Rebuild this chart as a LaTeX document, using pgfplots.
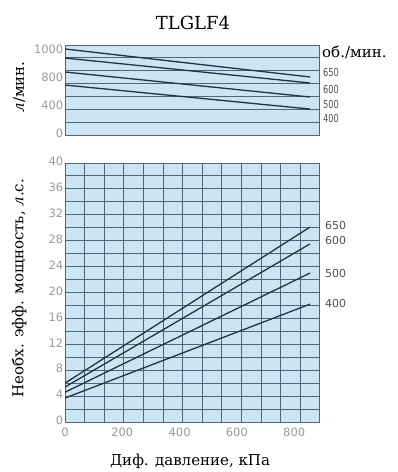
\documentclass[border=0pt]{standalone}
\usepackage{pgfplots}
\pgfplotsset{compat=1.18}
\usepackage{fontspec}
\setmainfont{DejaVu Serif}
\newfontfamily\tickfont{DejaVu Sans}
\definecolor{bgblue}{HTML}{CDE4F3}
\definecolor{gridc}{HTML}{4A687D}
\definecolor{linec}{HTML}{1F3344}
\definecolor{tickc}{HTML}{9A9A9A}
\definecolor{rlab}{HTML}{505050}
\pgfplotsset{
  dl/.style={linec, line width=1.3bp, mark=none},
  panel/.style={
    scale only axis, anchor=south west,
    xmin=0, xmax=890,
    axis background/.style={fill=bgblue},
    axis line style={gridc, line width=1bp},
    minor xtick={0,68.46,136.92,205.38,273.85,342.31,410.77,479.23,547.69,616.15,684.62,753.08,821.54,890},
    xminorgrids, yminorgrids,
    minor grid style={gridc, line width=1bp},
    major tick length=0pt, minor tick length=0pt,
    tick label style={font=\tickfont\fontsize{11.5bp}{12bp}\selectfont, text=tickc},
    /pgf/number format/assume math mode=true,
    yticklabel style={inner sep=1.5bp, yshift=1.5bp},
    xticklabel style={inner sep=2bp, yshift=-4bp},
  }
}
\begin{document}
\begin{tikzpicture}
\useasboundingbox (0,0) rectangle (398bp,-472bp);
% top panel
\begin{axis}[panel, at={(65bp,-135bp)}, width=255bp, height=90bp,
  ymin=0, ymax=1286,
  xtick=\empty,
  ytick={0,400,800,1200}, yticklabels={0,400,800,1000},
  minor ytick={0,183.7,367.4,551.1,734.9,918.6,1102.3,1286},
]
\addplot[dl] coordinates {(0,1229) (855,829)};
\addplot[dl] coordinates {(0,1100) (855,743)};
\addplot[dl] coordinates {(0,900) (855,543)};
\addplot[dl] coordinates {(0,714) (855,371)};
\end{axis}
% bottom panel
\begin{axis}[panel, at={(65bp,-422bp)}, width=255bp, height=259bp,
  ymin=0, ymax=40,
  xtick={0,200,400,600,800},
  ytick={0,4,...,40},
  minor ytick={0,2,...,40},
]
\addplot[dl] coordinates {(0,6.0) (855,30.1)};
\addplot[dl] coordinates {(0,5.4) (855,27.5)};
\addplot[dl] coordinates {(0,4.6) (855,23.0)};
\addplot[dl] coordinates {(0,3.7) (855,18.2)};
\end{axis}
% texts
\node[font=\fontsize{18bp}{20bp}\selectfont] at (193bp,-23bp) {TLGLF4};
\node[font=\fontsize{15bp}{17bp}\selectfont] at (190bp,-461bp) {Диф. давление, кПа};
\node[font=\fontsize{15bp}{17bp}\selectfont, rotate=90] at (19bp,-87bp) {\textit{л}/мин.};
\node[font=\fontsize{15bp}{17bp}\selectfont, rotate=90] at (19bp,-288bp) {Необх. эфф. мощность, \textit{л}.с.};
\node[font=\fontsize{15bp}{17bp}\selectfont, anchor=west, inner sep=0pt] at (322bp,-52bp) {об./мин.};
\begin{scope}[every node/.style={anchor=west, inner sep=0pt, text=rlab, font=\tickfont\fontsize{11bp}{12bp}\selectfont}]
\node at (323bp,-72bp) {\scalebox{0.75}[1]{650}};
\node at (323bp,-89bp) {\scalebox{0.75}[1]{600}};
\node at (323bp,-104bp) {\scalebox{0.75}[1]{500}};
\node at (323bp,-118bp) {\scalebox{0.75}[1]{400}};
\node at (325bp,-225bp) {650};
\node at (325bp,-240bp) {600};
\node at (325bp,-273bp) {500};
\node at (325bp,-303bp) {400};
\end{scope}
\end{tikzpicture}
\end{document}
